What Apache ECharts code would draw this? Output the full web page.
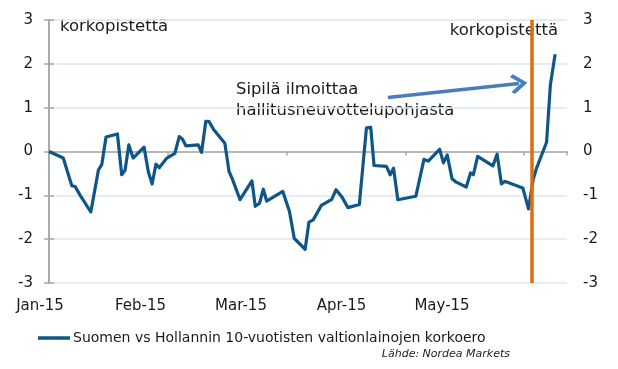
<!DOCTYPE html>
<html>
<head>
<meta charset="utf-8">
<script src="https://cdn.jsdelivr.net/npm/echarts@6/dist/echarts.min.js"></script>
<style>
html,body{margin:0;padding:0;background:#fff;}
#c{width:618px;height:369px;}
</style>
</head>
<body>
<div id="c"></div>
<script>
// x positions in trading-day units (0 = start of January 2015)
const dayIndex = [0.0,3.0,4.8,5.5,6.5,8.8,10.4,11.1,12.0,14.4,15.3,16.0,16.8,17.7,20.0,20.9,21.7,22.5,23.2,24.8,26.5,27.4,28.1,28.8,31.4,32.1,33.0,33.7,34.6,37.0,37.9,38.6,40.2,42.7,43.4,44.3,45.1,45.8,49.2,50.6,51.6,53.9,54.7,55.6,57.3,59.5,60.4,61.6,62.9,65.3,66.8,67.7,68.4,71.0,71.8,72.5,73.4,77.2,78.9,79.8,82.2,83.0,83.8,84.8,85.7,87.8,88.7,89.3,90.2,93.4,94.3,95.2,95.9,99.7,100.9,101.9,102.6,104.7,105.5,106.5];
// Suomen vs Hollannin 10v korkoero, korkopistettä
const spread = [0.00,-0.15,-0.78,-0.80,-0.99,-1.38,-0.42,-0.30,0.33,0.40,-0.53,-0.43,0.15,-0.15,0.10,-0.46,-0.74,-0.29,-0.37,-0.15,-0.04,0.34,0.28,0.13,0.15,-0.02,0.69,0.68,0.51,0.19,-0.46,-0.63,-1.10,-0.67,-1.25,-1.18,-0.86,-1.13,-0.91,-1.37,-1.98,-2.23,-1.61,-1.56,-1.23,-1.09,-0.87,-1.03,-1.28,-1.21,0.54,0.55,-0.32,-0.34,-0.53,-0.38,-1.10,-1.02,-0.18,-0.22,0.05,-0.26,-0.08,-0.62,-0.70,-0.81,-0.49,-0.53,-0.11,-0.33,-0.06,-0.74,-0.68,-0.83,-1.31,-0.63,-0.38,0.21,1.52,2.22];
const monthLabels = ['Jan-15','Feb-15','Mar-15','Apr-15','May-15'];
const yTicks = [-3,-2,-1,0,1,2,3];
const eventDay = 101.6;              // Sipilä announcement
const arrowFrom = [71.3, 1.23];
const arrowTo = [98.9, 1.55];
const seriesName = 'Suomen vs Hollannin 10-vuotisten valtionlainojen korkoero';

const FONT = 'DejaVu Sans';
const chart = echarts.init(document.getElementById('c'), null, {renderer:'canvas'});
const data = dayIndex.map((d,i)=>[d, spread[i]]);
const axisGray = '#A6A6A6';
const yAxisCommon = {
  type:'value', min:yTicks[0], max:yTicks[yTicks.length-1], interval:1,
  axisLine:{show:true, lineStyle:{color:axisGray, width:1.5}},
  axisTick:{show:true, length:5, lineStyle:{color:axisGray, width:1.5}},
  axisLabel:{color:'#1a1a1a', fontFamily:FONT, fontSize:15, margin:16}
};
chart.setOption({
  animation:false,
  grid:{left:49, right:51, top:20, bottom:86, containLabel:false},
  xAxis:[
    {type:'value', min:0, max:109, interval:25,
     axisLine:{onZero:true, lineStyle:{color:axisGray, width:1.5}},
     axisTick:{show:true, length:4, lineStyle:{color:axisGray, width:1.5}},
     axisLabel:{show:false}, splitLine:{show:false}},
    {type:'value', min:0, max:5.154, interval:1, position:'bottom',
     axisLine:{show:false, onZero:false}, axisTick:{show:false}, splitLine:{show:false},
     axisLabel:{show:true, color:'#1a1a1a', fontFamily:FONT, fontSize:15, margin:16,
       padding:[0,18,0,0],
       formatter:(v)=> (Number.isInteger(v) && v < monthLabels.length) ? monthLabels[v] : ''}}
  ],
  yAxis:[
    Object.assign({}, yAxisCommon, {position:'left',
      splitLine:{show:true, lineStyle:{color:'#DCE6F2', width:1.5}}}),
    Object.assign({}, yAxisCommon, {position:'right', splitLine:{show:false}})
  ],
  legend:{show:true, left:38, top:331, padding:0, icon:'rect', itemWidth:32, itemHeight:3.5, itemGap:10,
    textStyle:{fontFamily:FONT, fontSize:14, color:'#1a1a1a', padding:[0,0,0,-2]},
    data:[seriesName]},
  series:[
    {name:seriesName, type:'line', data:data, xAxisIndex:0, yAxisIndex:0,
     showSymbol:false, symbol:'none',
     lineStyle:{color:'#0F5587', width:3.2, join:'round'}, itemStyle:{color:'#0F5587'},
     markLine:{silent:true, animation:false, label:{show:false},
       data:[
         [{coord:[eventDay, yTicks[0]], symbol:'none', lineStyle:{color:'#E36C0A', width:3.5, type:'solid'}},
          {coord:[eventDay, yTicks[yTicks.length-1]], symbol:'none'}],
         [{coord:arrowFrom, symbol:'none', lineStyle:{color:'#4A7EBB', width:3.5, type:'solid'}},
          {coord:arrowTo, symbol:'path://M0,0 L10,9 L7.6,11.2 L0,4.2 L-7.6,11.2 L-10,9 Z', symbolSize:[20,17]}]
       ]}}
  ],
  graphic:[
    {type:'text', left:60, top:18, style:{text:'korkopistettä', font:'16.5px "DejaVu Sans"', fill:'#1a1a1a'}},
    {type:'text', right:60, top:22, style:{text:'korkopistettä', font:'16.5px "DejaVu Sans"', fill:'#1a1a1a'}},
    {type:'text', left:236, top:79, style:{text:'Sipilä ilmoittaa\nhallitusneuvottelupohjasta', font:'16.4px "DejaVu Sans"', lineHeight:21, fill:'#1a1a1a'}},
    {type:'text', right:108, top:349, style:{text:'Lähde: Nordea Markets', font:'italic 11px "DejaVu Sans"', fill:'#222'}}
  ]
});
</script>
</body>
</html>
